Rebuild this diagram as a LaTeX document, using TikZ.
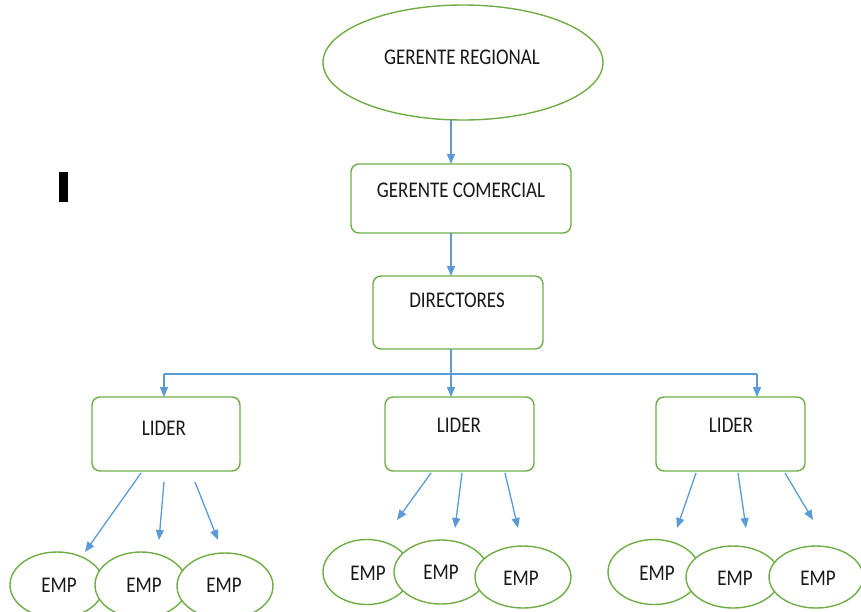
\documentclass[tikz,border=0pt]{standalone}
\usepackage{fontspec}
\setmainfont{Carlito}
\usetikzlibrary{arrows.meta,shapes.geometric}
\definecolor{gr}{HTML}{70AD47}
\definecolor{bl}{HTML}{5B9BD5}
\newcommand{\ST}[1]{\scalebox{1}[1.18]{#1}}
\begin{document}
\begin{tikzpicture}[x=1pt,y=-1pt,
  ell/.style={draw=gr,fill=white,line width=1.4pt,ellipse,inner sep=0pt},
  bx/.style={draw=gr,line width=1.4pt,rounded corners=8pt,inner sep=0pt},
  txt/.style={inner sep=0pt,font=\fontsize{19}{22}\selectfont,text=black!90},
  arr/.style={draw=bl,line width=1.3pt,-{Triangle[length=10pt,width=8pt]}},
  ln/.style={draw=bl,line width=1.3pt}]
\useasboundingbox (0,0) rectangle (861,611);
\fill[white] (0,0) rectangle (861,611);
% black bar
\fill[black] (59,172) rectangle (68,202);
% top ellipse
\node[ell,minimum width=280pt,minimum height=115pt] (gr) at (463,62.5) {};
\node[txt] (grT) at (462,57.5) {\ST{GERENTE REGIONAL}};
% gerente comercial
\node[bx,minimum width=220pt,minimum height=69pt] (gc) at (461,198.5) {};
\node[txt] (gcT) at (461,190) {\ST{GERENTE COMERCIAL}};
% directores
\node[bx,minimum width=170pt,minimum height=73pt] (dir) at (458,312.5) {};
\node[txt] (dirT) at (457,300) {\ST{DIRECTORES}};
% lideres
\node[bx,minimum width=148pt,minimum height=74pt] (l1) at (166,434) {};
\node[txt] (l1T) at (164,428) {\ST{LIDER}};
\node[bx,minimum width=149pt,minimum height=74pt] (l2) at (459.5,434) {};
\node[txt] (l2T) at (459,425) {\ST{LIDER}};
\node[bx,minimum width=149pt,minimum height=74pt] (l3) at (730.5,434) {};
\node[txt] (l3T) at (731,425) {\ST{LIDER}};
% top connectors
\coordinate (a1) at (451,120);
\coordinate (a2) at (451,164);
\draw[arr] (a1) -- (a2);
\coordinate (b1) at (451,233);
\coordinate (b2) at (451,276);
\draw[arr] (b1) -- (b2);
\coordinate (c0) at (451,349);
\coordinate (cL) at (164,374);
\coordinate (cR) at (757,374);
\draw[ln] (cL) -- (cR);
\draw[arr] (c0) -- (451,397);
\draw[arr] (cL) -- (164,397);
\draw[arr] (cR) -- (757,397);
% employees left
\node[ell,minimum width=94pt,minimum height=66pt] (e11) at (57,585) {};
\node[ell,minimum width=92pt,minimum height=66pt] (e12) at (141,585) {};
\node[ell,minimum width=96pt,minimum height=66pt] (e13) at (225,586) {};
\node[txt] at (59,585) {\ST{EMP}};
\node[txt] at (144,585) {\ST{EMP}};
\node[txt] at (224,585) {\ST{EMP}};
% employees middle
\node[ell,minimum width=88pt,minimum height=65pt] (e21) at (367,572) {};
\node[ell,minimum width=94pt,minimum height=64pt] (e22) at (441,572) {};
\node[ell,minimum width=96pt,minimum height=62pt] (e23) at (523,577) {};
\node[txt] at (368,573) {\ST{EMP}};
\node[txt] at (441,572) {\ST{EMP}};
\node[txt] at (521,578) {\ST{EMP}};
% employees right
\node[ell,minimum width=92pt,minimum height=65pt] (e31) at (654,572) {};
\node[ell,minimum width=94pt,minimum height=62pt] (e32) at (733,577) {};
\node[ell,minimum width=94pt,minimum height=62pt] (e33) at (816,577) {};
\node[txt] at (657,573) {\ST{EMP}};
\node[txt] at (735,578) {\ST{EMP}};
\node[txt] at (818,578) {\ST{EMP}};
% lower arrows
\draw[arr] (141,473) -- (85,552);
\draw[arr] (164,482) -- (159,540);
\draw[arr] (195,482) -- (218,540);
\draw[arr] (431,473) -- (397,520);
\draw[arr] (462,473) -- (455,528);
\draw[arr] (505,473) -- (518,528);
\draw[arr] (696,473) -- (677,528);
\draw[arr] (738,473) -- (746,528);
\draw[arr] (785,473) -- (813,520);
\end{tikzpicture}
\end{document}
